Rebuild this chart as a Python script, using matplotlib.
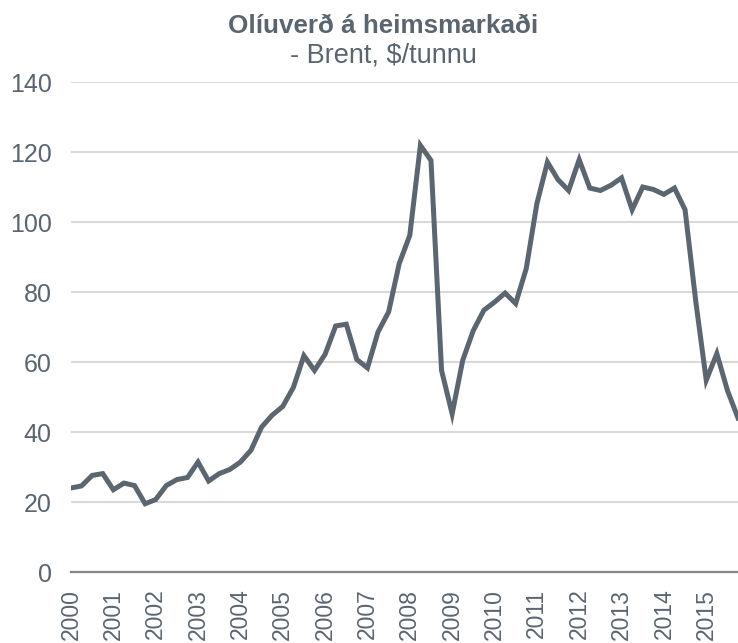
import matplotlib
matplotlib.use("Agg")
from matplotlib import pyplot as plt
import numpy as np

# Brent, quarterly averages, $/tunnu
years = [str(y) for y in range(2000, 2016)]
brent = [24.0, 24.6, 27.6, 28.1, 23.5, 25.4, 24.7, 19.5,
         20.7, 24.7, 26.4, 27.0, 31.4, 26.0, 28.1, 29.3,
         31.4, 34.8, 41.4, 44.8, 47.3, 52.7, 61.8, 57.6,
         62.2, 70.3, 70.8, 60.7, 58.3, 68.6, 74.3, 88.1,
         96.2, 121.9, 117.6, 57.6, 45.2, 60.5, 69.0, 74.8,
         77.1, 79.7, 76.7, 86.7, 105.2, 117.1, 112.1, 109.0,
         117.8, 109.7, 109.0, 110.5, 112.6, 103.5, 110.0, 109.3,
         107.9, 109.7, 103.5, 77.6, 54.8, 62.4, 51.9, 44.0]
yticks = [0, 20, 40, 60, 80, 100, 120, 140]

plt.rcParams["font.family"] = ["Liberation Sans", "DejaVu Sans"]

txt = "#5a6570"
fig = plt.figure(figsize=(7.38, 6.43), dpi=100)
ax = fig.add_axes([71 / 738, 71 / 643, 667 / 738, 490 / 643])

x = np.arange(len(brent))
ax.plot(x, brent, color="#5b6670", linewidth=3.6, solid_joinstyle="miter")

ax.set_xlim(0, len(brent) - 1)
ax.set_ylim(0, 140)
ax.set_yticks(yticks)
ax.set_xticks(np.arange(0, len(brent), 4))
ax.set_xticklabels(years, rotation=90, va="top", ha="center")

ax.grid(axis="y", color="#d9d9d9", linewidth=1.5)
ax.set_axisbelow(True)
for s in ["top", "right", "left"]:
    ax.spines[s].set_visible(False)
ax.spines["bottom"].set_color("#868686")
ax.spines["bottom"].set_linewidth(1.6)
ax.tick_params(axis="both", length=0, labelcolor=txt)
ax.tick_params(axis="y", pad=14, labelsize=18)
ax.tick_params(axis="x", pad=12, labelsize=16.5)

fig.text(0.519, 1 - 33 / 643, "Olíuverð á heimsmarkaði", ha="center", va="baseline",
         fontsize=18.7, fontweight="bold", color=txt)
fig.text(0.519, 1 - 62 / 643, "- Brent, $/tunnu", ha="center", va="baseline",
         fontsize=19.5, color=txt)

fig.savefig("out.png", dpi=100)
